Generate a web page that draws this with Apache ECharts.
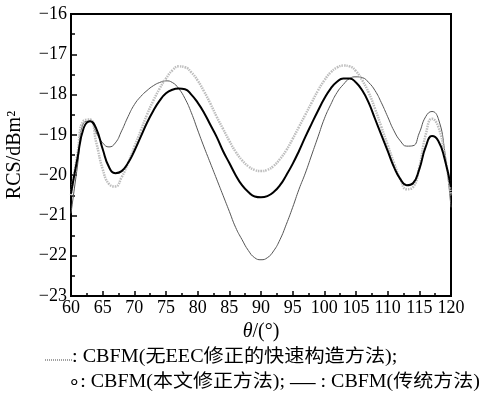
<!DOCTYPE html>
<html>
<head>
<meta charset="utf-8">
<script src="https://cdn.jsdelivr.net/npm/echarts@6/dist/echarts.min.js"></script>
<style>html,body{margin:0;padding:0;background:#fff}#c{width:481px;height:401px}</style>
</head>
<body>
<div id="c"></div>
<script>
var theta = [60,61,62,63,64,65,66,67,68,69,70,71,72,73,74,75,76,77,78,79,80,81,82,83,84,85,86,87,88,89,90,91,92,93,94,95,96,97,98,99,100,101,102,103,104,105,106,107,108,109,110,111,112,113,114,115,116,117,118,119,120];
var traditional = [-20.45,-19.6,-18.83,-18.66,-18.85,-19.35,-19.8,-19.95,-19.9,-19.7,-19.4,-19.05,-18.7,-18.4,-18.15,-17.97,-17.88,-17.85,-17.87,-18.0,-18.2,-18.45,-18.75,-19.05,-19.4,-19.7,-20.0,-20.25,-20.42,-20.53,-20.55,-20.52,-20.42,-20.25,-20.0,-19.72,-19.4,-19.05,-18.72,-18.4,-18.1,-17.85,-17.68,-17.6,-17.6,-17.7,-17.9,-18.2,-18.6,-19.0,-19.4,-19.8,-20.1,-20.25,-20.2,-19.85,-19.3,-19.03,-19.15,-19.6,-20.3];
var corrected = [-20.5,-19.5,-18.65,-18.62,-19.2,-19.85,-20.22,-20.28,-20.05,-19.7,-19.3,-18.9,-18.5,-18.15,-17.85,-17.6,-17.4,-17.3,-17.32,-17.45,-17.65,-17.92,-18.22,-18.55,-18.85,-19.15,-19.42,-19.63,-19.78,-19.87,-19.9,-19.87,-19.77,-19.6,-19.38,-19.1,-18.8,-18.5,-18.2,-17.9,-17.65,-17.45,-17.33,-17.28,-17.3,-17.42,-17.65,-17.95,-18.35,-18.8,-19.25,-19.7,-20.1,-20.35,-20.3,-19.8,-19.0,-18.6,-18.8,-19.5,-20.5];
var noEEC = [-20.95,-19.8,-18.7,-18.66,-18.95,-19.2,-19.3,-19.2,-18.9,-18.55,-18.25,-18.05,-17.9,-17.78,-17.7,-17.66,-17.7,-17.85,-18.1,-18.45,-18.88,-19.3,-19.7,-20.1,-20.5,-20.9,-21.3,-21.6,-21.87,-22.05,-22.1,-22.05,-21.88,-21.6,-21.22,-20.8,-20.35,-19.95,-19.5,-19.05,-18.6,-18.25,-17.95,-17.75,-17.6,-17.56,-17.58,-17.7,-17.9,-18.2,-18.55,-18.9,-19.15,-19.28,-19.27,-18.95,-18.55,-18.42,-18.6,-19.4,-20.8];
var xTicks = {min: 60, max: 120, interval: 5};
var yTicks = {min: -23, max: -16, interval: 1};
var legendLine1 = ': CBFM(无EEC修正的快速构造方法);';
var legendLine2 = '∘: CBFM(本文修正方法); {d|—} : CBFM(传统方法)';

function pairs(vals){ return theta.map(function(t,i){ return [t, vals[i]]; }); }
var FONT = "'Liberation Serif', 'Noto Sans CJK SC', serif";
var chart = echarts.init(document.getElementById('c'), null, {renderer:'canvas'});
chart.setOption({
  animation: false,
  backgroundColor: '#fff',
  grid: {left: 71, top: 14, right: 30, bottom: 105, show: true, borderColor: '#000', borderWidth: 2,
         containLabel: false, outerBoundsMode: 'none'},
  xAxis: {
    type: 'value', min: xTicks.min, max: xTicks.max, interval: xTicks.interval,
    name: '{i|θ}/(°)', nameLocation: 'middle', nameGap: 25,
    nameTextStyle: {fontFamily: FONT, fontSize: 20, color: '#000',
      rich: {i: {fontFamily: FONT, fontSize: 20, fontStyle: 'italic', color: '#000'}}},
    axisLine: {lineStyle: {color: '#000', width: 2}},
    axisTick: {inside: true, length: 5, lineStyle: {color: '#000', width: 1.5}},
    minorTick: {show: true, splitNumber: 2, length: 3, lineStyle: {color: '#000', width: 1.5}},
    axisLabel: {fontFamily: FONT, fontSize: 18, color: '#000', margin: 3},
    splitLine: {show: false}
  },
  yAxis: {
    type: 'value', min: yTicks.min, max: yTicks.max, interval: yTicks.interval,
    name: 'RCS/dBm²', nameLocation: 'middle', nameGap: 46,
    nameTextStyle: {fontFamily: FONT, fontSize: 20, color: '#000'},
    axisLine: {lineStyle: {color: '#000', width: 2}},
    axisTick: {inside: true, length: 6, lineStyle: {color: '#000', width: 1.5}},
    minorTick: {show: true, splitNumber: 2, length: 4, lineStyle: {color: '#000', width: 1.5}},
    axisLabel: {fontFamily: FONT, fontSize: 18, color: '#000', margin: 4,
      formatter: function(v){ return String(v).replace('-', '−'); }},
    splitLine: {show: false}
  },
  series: [
    {name: 'noEEC', type: 'line', data: pairs(noEEC), smooth: 0.5, showSymbol: false,
     lineStyle: {color: '#555', width: 1}, z: 2},
    {name: 'corrected', type: 'line', data: pairs(corrected), smooth: 0.5, showSymbol: false,
     lineStyle: {color: '#bdbdbd', width: 2.5, type: [1.5, 1]}, z: 3},
    {name: 'traditional', type: 'line', data: pairs(traditional), smooth: 0.5, showSymbol: false,
     lineStyle: {color: '#000', width: 2}, z: 4}
  ],
  graphic: [
    {type: 'line', shape: {x1: 45, y1: 360, x2: 72, y2: 360}, style: {stroke: '#444', lineWidth: 1, lineDash: [1, 1]}},
    {type: 'text', x: 72, y: 348, scaleX: 1.12, style: {text: legendLine1, font: '18px ' + FONT, fill: '#000'}},
    {type: 'text', x: 68, y: 371, scaleX: 1.11, style: {text: legendLine2, font: '18px ' + FONT, fill: '#000',
      rich: {d: {fontFamily: FONT, fontSize: 23, fill: '#000'}}}}
  ]
});
</script>
</body>
</html>
